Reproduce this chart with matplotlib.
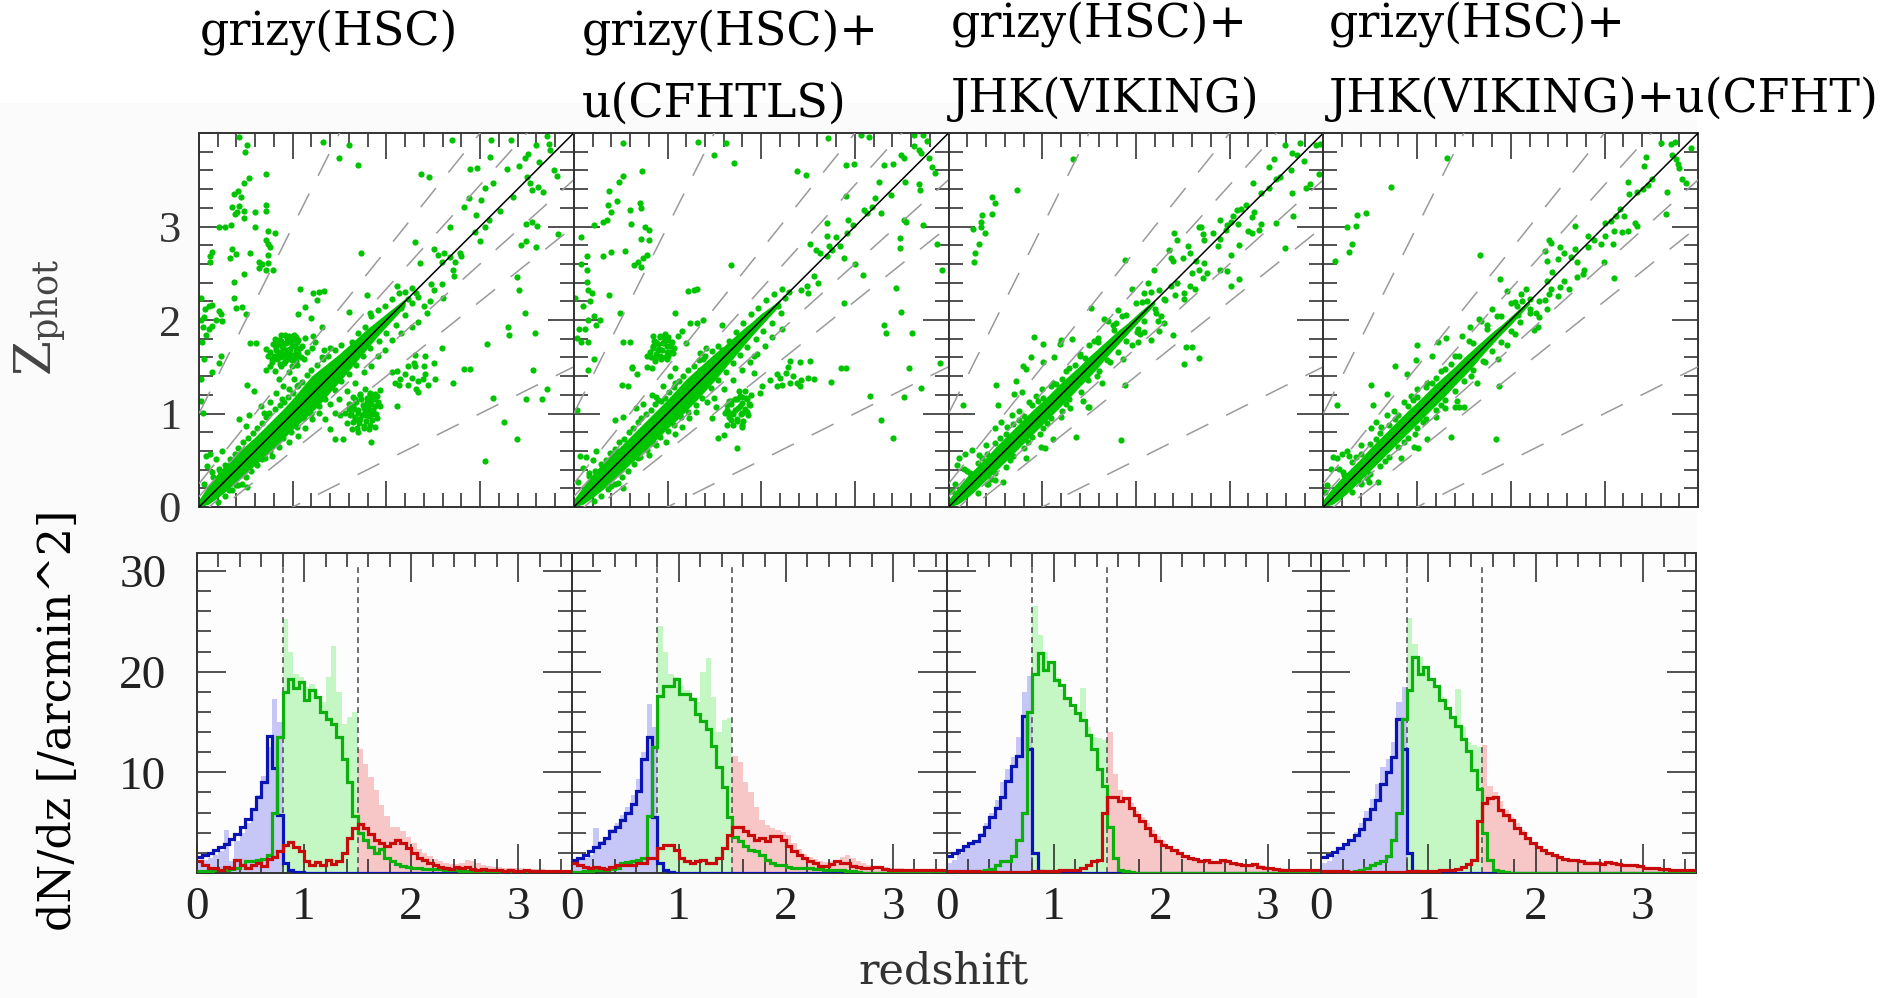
import matplotlib
matplotlib.use('Agg')
import matplotlib.pyplot as plt
import numpy as np
from matplotlib.ticker import MultipleLocator, NullFormatter
from matplotlib.patches import Rectangle

plt.rcParams['font.family'] = ['DejaVu Serif']
plt.rcParams['mathtext.fontset'] = 'dejavuserif'

# ---------------- titles ----------------
title_lines = [['grizy(HSC)'],
               ['grizy(HSC)+', 'u(CFHTLS)'],
               ['grizy(HSC)+', 'JHK(VIKING)'],
               ['grizy(HSC)+', 'JHK(VIKING)+u(CFHT)']]

# ---------------- top row: z_spec vs z_phot ----------------
# outlier lines: (1+zp)/(1+zs) limits
outlier_k = [0.1, 0.2, 0.5]

# dense core along the diagonal (z_spec grid, lower / upper z_phot)
core_z = [0.0, 0.1, 0.2, 0.3, 0.4, 0.5, 0.6, 0.7, 0.8, 0.9, 1.0, 1.1,
          1.2, 1.3, 1.4, 1.5, 1.6, 1.7, 1.8, 1.9, 2.0, 2.1, 2.2]
core_lo_hsc = [0.00, 0.03, 0.10, 0.18, 0.27, 0.36, 0.45, 0.54, 0.63, 0.73, 0.83, 0.92,
               1.01, 1.11, 1.23, 1.34, 1.46, 1.58, 1.70, 1.82, 1.93, 2.04, 2.15]
core_hi_hsc = [0.08, 0.23, 0.36, 0.47, 0.57, 0.66, 0.75, 0.85, 0.95, 1.05, 1.16, 1.28,
               1.40, 1.48, 1.56, 1.64, 1.73, 1.82, 1.91, 1.99, 2.07, 2.15, 2.23]
core_lo_u = [0.00, 0.03, 0.10, 0.18, 0.27, 0.36, 0.46, 0.55, 0.64, 0.74, 0.84, 0.93,
             1.03, 1.13, 1.24, 1.35, 1.47, 1.59, 1.71, 1.83, 1.94, 2.05, 2.16]
core_hi_u = [0.08, 0.22, 0.35, 0.46, 0.56, 0.65, 0.75, 0.85, 0.95, 1.05, 1.15, 1.26,
             1.37, 1.46, 1.55, 1.64, 1.72, 1.81, 1.90, 1.98, 2.07, 2.14, 2.22]
core_lo_vik = [0.00, 0.03, 0.10, 0.19, 0.29, 0.38, 0.48, 0.58, 0.68, 0.78, 0.88, 0.98,
               1.08, 1.18, 1.29, 1.39, 1.50, 1.62, 1.73, 1.84, 1.95, 2.06, 2.17]
core_hi_vik = [0.08, 0.21, 0.33, 0.43, 0.53, 0.64, 0.74, 0.84, 0.94, 1.04, 1.13, 1.23,
               1.33, 1.42, 1.51, 1.61, 1.70, 1.79, 1.88, 1.96, 2.05, 2.14, 2.22]
core_lo_all = [0.00, 0.03, 0.10, 0.19, 0.29, 0.39, 0.49, 0.59, 0.69, 0.79, 0.89, 0.99,
               1.09, 1.19, 1.30, 1.40, 1.51, 1.63, 1.74, 1.85, 1.95, 2.06, 2.17]
core_hi_all = [0.08, 0.21, 0.32, 0.42, 0.52, 0.63, 0.73, 0.83, 0.93, 1.03, 1.12, 1.22,
               1.32, 1.41, 1.50, 1.60, 1.69, 1.78, 1.87, 1.95, 2.04, 2.13, 2.21]

# scattered galaxies (z_spec, z_phot)
pts_hsc = [
    (0.43, 3.96), (0.51, 3.87), (0.49, 3.80), (0.72, 3.56), (0.53, 3.52), (0.48, 3.46), (0.42, 3.38),
    (0.37, 3.35), (0.45, 3.32), (0.35, 3.21), (0.43, 3.22), (0.41, 3.16), (0.48, 3.17), (0.38, 3.13),
    (0.60, 3.16), (0.71, 3.23), (0.72, 3.17), (0.48, 3.09), (0.60, 3.00), (0.34, 3.02), (0.21, 3.00),
    (0.28, 3.00), (0.74, 2.95), (0.81, 2.93), (0.71, 2.86), (0.74, 2.81), (0.14, 2.73), (0.12, 2.68),
    (0.12, 2.62), (0.35, 2.76), (0.39, 2.71), (0.33, 2.66), (0.54, 2.72), (0.74, 2.70), (0.76, 2.78),
    (0.64, 2.62), (0.67, 2.60), (0.74, 2.61), (0.64, 2.56), (0.71, 2.53), (0.79, 2.53), (0.48, 2.49),
    (0.37, 2.41), (0.37, 2.24), (0.39, 2.13), (0.46, 2.14), (0.50, 2.06), (0.02, 2.23), (0.06, 2.12),
    (0.11, 2.15), (0.14, 2.16), (0.21, 2.10), (0.23, 2.06), (0.05, 2.03), (0.02, 2.00), (0.18, 2.00),
    (0.25, 1.99), (0.04, 1.93), (0.11, 1.90), (0.14, 1.94), (0.07, 1.84), (0.03, 1.77), (0.05, 1.58),
    (0.23, 1.61), (0.14, 1.44), (0.21, 1.54), (0.02, 1.37), (0.02, 1.13), (0.04, 1.01), (0.54, 1.75),
    (0.61, 1.75), (1.08, 2.33), (1.22, 2.29), (1.28, 2.30), (1.33, 2.31), (1.26, 2.21), (1.13, 2.14),
    (1.20, 2.02), (1.06, 2.06), (1.31, 1.93), (1.73, 2.72), (0.51, 1.30), (0.59, 1.24), (1.32, 3.90),
    (1.49, 3.73), (1.60, 3.87), (1.70, 3.66), (2.37, 3.56), (2.45, 3.53), (2.70, 3.93), (2.89, 3.62),
    (2.97, 3.63), (3.12, 3.93), (3.11, 3.74), (3.33, 3.93), (3.29, 3.62), (3.42, 3.65), (3.48, 3.73),
    (3.51, 3.78), (3.60, 3.87), (3.63, 3.69), (3.71, 3.97), (3.74, 3.88), (3.75, 3.82), (3.79, 3.60),
    (3.82, 3.54), (3.05, 3.41), (3.14, 3.46), (3.35, 3.32), (3.53, 3.46), (3.62, 3.42), (3.67, 3.37),
    (3.50, 3.53), (3.55, 3.39), (2.88, 3.30), (3.01, 3.28), (2.83, 3.21), (2.96, 3.12), (3.10, 3.07),
    (3.05, 3.00), (3.21, 3.17), (2.68, 3.00), (2.95, 2.94), (3.00, 2.84), (3.49, 3.03), (3.55, 3.05),
    (3.61, 3.01), (3.83, 2.92), (3.44, 2.80), (3.49, 2.85), (3.60, 2.78), (3.39, 2.46), (3.42, 2.32),
    (3.48, 2.07), (3.59, 1.86), (3.30, 1.93), (3.31, 1.84), (3.07, 1.74), (2.30, 2.83), (2.36, 2.61),
    (2.51, 2.76), (2.55, 2.70), (2.62, 2.72), (2.68, 2.67), (2.59, 2.62), (2.73, 2.62), (2.80, 2.68),
    (2.79, 2.72), (2.71, 2.53), (2.72, 2.47), (2.48, 2.39), (2.59, 2.39), (2.51, 2.32), (2.60, 2.23),
    (2.46, 2.20), (2.59, 1.70), (2.31, 1.63), (2.41, 1.61), (2.40, 1.51), (2.30, 1.51), (2.51, 1.54),
    (2.83, 1.48), (2.89, 1.48), (2.71, 1.33), (2.11, 1.45), (2.06, 1.44), (2.15, 1.37), (2.20, 1.42),
    (2.27, 1.38), (2.34, 1.35), (2.39, 1.37), (2.44, 1.31), (2.52, 1.37), (2.13, 1.31), (2.23, 1.31),
    (2.09, 1.33), (2.32, 1.26), (2.34, 1.23), (2.23, 1.51), (2.29, 1.54), (2.41, 1.42), (2.11, 1.08),
    (3.14, 1.17), (3.49, 1.16), (3.66, 1.16), (3.71, 1.26), (3.26, 0.91), (3.39, 0.73), (3.05, 0.49),
    (3.56, 1.47), (1.60, 1.10), (1.65, 1.05), (1.70, 1.01), (1.76, 1.06), (1.79, 1.12), (1.84, 1.15),
    (1.88, 1.21), (1.83, 1.22), (1.77, 1.26), (1.88, 1.08), (1.91, 1.12), (1.72, 0.94), (1.67, 0.94),
    (1.61, 0.98), (1.76, 0.87), (1.81, 0.83), (1.63, 0.83), (1.70, 0.80), (1.84, 0.70), (1.86, 0.99),
    (1.56, 1.01), (1.77, 0.98), (1.83, 1.03), (1.45, 1.01), (1.51, 0.98), (1.40, 0.83), (1.45, 0.73),
    (1.54, 0.73), (1.35, 0.94), (1.32, 1.17), (1.38, 1.28), (0.92, 1.84), (0.96, 1.83), (1.03, 1.82),
    (0.85, 1.79), (0.89, 1.74), (0.94, 1.76), (0.99, 1.72), (1.05, 1.76), (0.82, 1.70), (0.85, 1.65),
    (0.90, 1.61), (0.96, 1.67), (1.01, 1.61), (1.06, 1.65), (0.78, 1.58), (0.74, 1.61), (0.71, 1.69),
    (0.83, 1.58), (0.76, 1.51), (0.87, 1.51), (0.92, 1.56), (0.99, 1.51), (1.13, 1.81), (1.22, 1.83),
    (1.24, 1.76), (1.21, 1.70), (1.12, 1.58), (1.05, 1.52), (0.96, 1.44), (0.85, 1.37), (1.01, 1.37),
    (1.06, 1.31), (0.90, 1.29), (1.33, 1.68), (1.40, 1.70), (1.31, 1.60), (1.83, 2.07), (1.60, 2.09),
    (1.79, 2.27), (2.11, 2.36), (2.27, 2.18), (2.34, 2.25), (2.40, 2.15), (2.43, 2.07),
    (0.07, 0.55), (0.12, 0.57), (0.18, 0.51), (0.25, 0.60), (0.09, 0.44), (0.14, 0.37), (0.21, 0.41),
    (0.05, 0.25), (0.39, 0.23), (0.46, 0.25), (0.51, 0.21), (0.32, 0.18), (0.43, 0.94), (0.50, 0.87),
    (0.53, 0.98), (0.66, 1.08), (0.69, 1.01), (0.76, 1.12), (0.82, 1.22), (0.89, 1.15), (0.96, 1.26),
    (0.67, 0.51), (0.78, 0.55), (0.85, 0.64), (0.96, 0.69), (1.06, 0.76), (1.13, 0.85), (1.21, 0.94),
    (1.28, 1.01), (1.40, 1.10), (1.49, 1.15), (1.58, 1.24), (1.67, 1.33), (1.76, 1.44), (1.84, 1.51),
    (1.91, 1.61), (1.99, 1.68), (2.06, 1.79), (2.16, 1.86), (2.27, 1.93), (2.34, 1.98), (1.56, 1.65),
    (1.63, 1.76), (1.70, 1.86), (1.77, 1.93), (1.84, 2.04), (1.91, 2.11), (1.99, 2.15), (2.06, 2.22),
    (2.13, 2.29), (2.20, 2.30), (2.27, 2.34), (2.32, 2.29), (2.23, 2.22), (2.16, 2.13),
    (0.15, 0.32), (0.22, 0.39), (0.28, 0.45), (0.33, 0.51), (0.38, 0.57), (0.42, 0.63), (0.47, 0.69),
    (0.52, 0.74), (0.58, 0.79), (0.62, 0.85), (0.67, 0.90), (0.71, 0.96), (0.75, 1.01), (0.81, 1.05),
    (0.86, 1.09), (0.91, 1.12), (0.95, 1.18), (1.00, 1.22), (1.05, 1.29), (1.10, 1.34), (1.15, 1.41),
    (1.20, 1.47), (1.26, 1.52), (1.32, 1.58), (1.38, 1.62), (1.45, 1.68), (1.52, 1.73), (0.20, 0.05),
    (0.28, 0.12), (0.35, 0.18), (0.42, 0.24), (0.50, 0.32), (0.56, 0.38), (0.62, 0.45), (0.70, 0.52),
    (0.76, 0.60), (0.83, 0.68), (0.90, 0.74), (0.98, 0.80), (1.05, 0.86), (1.12, 0.95), (1.20, 1.00),
    (1.28, 1.08), (1.35, 1.15), (1.45, 1.25), (1.52, 1.35), (1.60, 1.42), (1.68, 1.52), (1.75, 1.62),
    (1.83, 1.70), (1.92, 1.78), (2.00, 1.86), (2.10, 1.95), (2.20, 2.05), (0.72, 1.46), (0.81, 1.45),
    (1.10, 1.72), (1.15, 1.66), (1.64, 1.18), (1.72, 1.20), (1.58, 0.90), (1.90, 0.95), (1.93, 1.25),
    # upper clump around z_spec ~0.9, z_phot ~1.7
    (0.78, 1.55), (0.80, 1.62), (0.82, 1.68), (0.84, 1.74), (0.86, 1.60), (0.88, 1.66), (0.88, 1.78),
    (0.90, 1.70), (0.92, 1.64), (0.93, 1.75), (0.94, 1.81), (0.95, 1.58), (0.97, 1.69), (0.98, 1.77),
    (1.00, 1.63), (1.00, 1.80), (1.02, 1.72), (1.03, 1.56), (1.04, 1.67), (1.06, 1.79), (1.08, 1.70),
    (1.09, 1.60), (0.81, 1.80), (0.86, 1.53), (0.91, 1.54), (0.96, 1.62), (0.99, 1.57), (0.84, 1.63),
    (0.89, 1.72), (0.94, 1.68), (1.01, 1.84), (0.87, 1.84), (0.79, 1.74), (0.76, 1.66), (1.05, 1.62),
    # lower clump around z_spec ~1.75, z_phot ~1.0
    (1.62, 1.00), (1.64, 1.08), (1.66, 0.96), (1.68, 1.12), (1.70, 1.04), (1.71, 0.90), (1.73, 1.16),
    (1.74, 0.98), (1.75, 1.09), (1.77, 1.02), (1.78, 0.92), (1.79, 1.17), (1.80, 1.07), (1.81, 0.97),
    (1.82, 1.21), (1.84, 1.10), (1.85, 0.93), (1.86, 1.04), (1.87, 1.16), (1.89, 1.00), (1.90, 1.19),
    (1.66, 1.16), (1.69, 0.85), (1.76, 0.84), (1.83, 0.88), (1.72, 1.21), (1.88, 0.86), (1.64, 0.91),
    (1.93, 1.08), (1.60, 1.05),
]

pts_u = [
    (0.52, 3.89), (0.73, 3.59), (0.53, 3.54), (0.48, 3.48), (0.38, 3.38), (0.46, 3.27), (0.37, 3.23),
    (0.60, 3.18), (0.71, 3.25), (0.72, 3.20), (0.40, 3.15), (0.35, 3.07), (0.22, 3.02), (0.31, 3.05),
    (0.61, 3.03), (0.76, 2.99), (0.80, 2.96), (0.72, 2.87), (0.80, 2.86), (0.08, 2.89), (0.40, 2.73),
    (0.31, 2.68), (0.55, 2.74), (0.78, 2.70), (0.74, 2.66), (0.64, 2.59), (0.69, 2.62), (0.72, 2.57),
    (0.14, 2.68), (0.08, 2.60), (0.14, 2.54), (0.14, 2.41), (0.19, 2.29), (0.15, 2.32), (0.01, 2.23),
    (0.10, 2.15), (0.17, 2.20), (0.22, 2.04), (0.15, 2.00), (0.28, 2.00), (0.24, 1.95), (0.06, 1.90),
    (0.12, 1.90), (0.03, 1.81), (0.08, 1.77), (0.15, 1.77), (0.22, 1.58), (0.15, 1.47), (0.03, 1.04),
    (0.38, 2.27), (0.49, 2.07), (0.53, 1.77), (0.60, 1.77), (0.62, 1.50), (0.51, 1.31), (0.58, 1.29),
    (1.22, 2.31), (1.28, 2.32), (1.32, 2.33), (1.08, 2.07), (1.16, 1.88), (1.24, 1.97), (1.31, 1.97),
    (1.38, 2.00), (1.58, 1.95), (1.68, 2.59), (1.50, 3.77), (1.33, 3.90), (1.62, 3.89), (1.71, 3.68),
    (2.38, 3.59), (2.48, 3.55), (2.71, 3.95), (2.91, 3.66), (2.99, 3.67), (3.07, 3.98), (3.15, 3.96),
    (3.63, 3.98), (3.73, 3.98), (3.77, 3.91), (3.49, 3.77), (3.52, 3.73), (3.63, 3.86), (3.68, 3.82),
    (3.71, 3.79), (3.79, 3.73), (3.82, 3.64), (3.86, 3.57), (3.31, 3.66), (3.41, 3.67), (2.90, 3.33),
    (3.21, 3.31), (3.38, 3.34), (3.70, 3.39), (3.68, 3.45), (3.26, 3.48), (3.54, 3.48), (3.10, 3.18),
    (3.13, 3.14), (3.18, 3.21), (3.28, 3.14), (2.70, 3.04), (2.93, 3.07), (2.98, 3.02), (2.80, 2.89),
    (2.84, 2.79), (2.92, 2.93), (2.70, 2.90), (2.72, 2.79), (2.59, 2.75), (2.52, 2.81), (2.63, 2.72),
    (2.70, 2.68), (2.76, 2.75), (2.88, 2.66), (3.00, 2.60), (3.09, 2.48), (2.88, 2.18), (2.56, 2.47),
    (2.61, 2.40), (2.49, 2.36), (2.50, 2.29), (2.42, 2.32), (3.52, 3.07), (3.55, 3.05), (3.73, 3.02),
    (3.48, 2.88), (3.48, 2.77), (3.88, 2.81), (3.93, 2.54), (3.44, 2.34), (3.49, 2.09), (3.31, 1.95),
    (3.33, 1.86), (3.61, 1.86), (3.58, 1.49), (3.71, 1.27), (3.91, 1.54), (3.28, 0.93), (3.41, 0.74),
    (3.16, 1.19), (3.52, 1.18), (2.85, 1.49), (2.91, 1.49), (2.75, 1.34), (2.52, 1.56), (2.41, 1.55),
    (2.17, 1.42), (2.20, 1.38), (2.27, 1.43), (2.34, 1.40), (2.42, 1.36), (2.50, 1.38), (2.56, 1.37),
    (2.31, 1.33), (2.38, 1.33), (2.22, 1.31), (2.17, 1.29), (2.41, 1.29), (2.29, 1.50), (2.31, 1.56),
    (2.09, 1.36), (1.63, 1.09), (1.68, 1.13), (1.74, 1.15), (1.79, 1.18), (1.83, 1.24), (1.85, 1.15),
    (1.88, 1.09), (1.77, 1.08), (1.72, 1.04), (1.67, 1.01), (1.79, 1.01), (1.85, 1.02), (1.61, 1.01),
    (1.68, 0.93), (1.74, 0.92), (1.63, 0.88), (1.79, 0.88), (1.60, 0.77), (1.54, 0.74), (1.74, 0.63),
    (1.99, 1.22), (2.01, 1.29), (1.92, 1.61), (1.92, 1.43), (1.52, 1.07), (1.47, 0.95), (0.92, 1.83),
    (0.97, 1.81), (1.01, 1.79), (0.88, 1.77), (0.95, 1.75), (1.03, 1.72), (0.85, 1.72), (0.90, 1.68),
    (0.99, 1.66), (1.06, 1.65), (0.81, 1.66), (0.92, 1.61), (0.87, 1.58), (0.99, 1.58), (0.78, 1.61),
    (0.83, 1.49), (1.08, 1.49), (0.62, 1.49), (0.67, 1.42), (0.78, 1.50), (1.11, 1.83), (1.20, 1.75),
    (1.35, 1.65), (1.41, 1.70), (1.38, 1.58), (1.03, 1.40), (1.08, 1.33), (0.95, 1.29), (0.88, 1.18),
    (1.35, 1.47), (1.42, 1.43),
    (0.07, 0.55), (0.13, 0.53), (0.20, 0.50), (0.24, 0.60), (0.10, 0.42), (0.16, 0.36), (0.05, 0.27),
    (0.40, 0.22), (0.47, 0.26), (0.52, 0.20), (0.44, 0.93), (0.52, 0.96), (0.66, 1.06), (0.74, 1.10),
    (0.83, 1.20), (0.90, 1.14), (0.68, 0.52), (0.80, 0.56), (0.88, 0.66), (0.98, 0.70), (1.08, 0.78),
    (1.15, 0.86), (1.23, 0.95), (1.30, 1.02), (1.42, 1.12), (1.50, 1.17), (1.60, 1.26), (1.70, 1.36),
    (1.80, 1.46), (1.88, 1.55), (1.96, 1.64), (2.04, 1.72), (2.12, 1.82), (2.22, 1.90), (1.58, 1.68),
    (1.66, 1.78), (1.73, 1.87), (1.81, 1.97), (1.89, 2.06), (1.97, 2.13), (2.05, 2.21), (2.14, 2.28),
    (2.22, 2.33), (2.30, 2.30), (2.25, 2.23), (2.18, 2.15),
    (0.16, 0.33), (0.23, 0.38), (0.29, 0.46), (0.34, 0.50), (0.39, 0.58), (0.44, 0.62), (0.48, 0.70),
    (0.54, 0.73), (0.59, 0.80), (0.63, 0.84), (0.68, 0.91), (0.72, 0.95), (0.77, 1.00), (0.82, 1.04),
    (0.87, 1.10), (0.93, 1.13), (0.97, 1.17), (1.02, 1.23), (1.07, 1.28), (1.12, 1.35), (1.17, 1.40),
    (1.22, 1.46), (1.28, 1.51), (1.34, 1.57), (1.40, 1.61), (1.47, 1.67), (1.54, 1.72), (0.22, 0.06),
    (0.29, 0.12), (0.37, 0.19), (0.44, 0.25), (0.51, 0.32), (0.58, 0.39), (0.64, 0.46), (0.71, 0.53),
    (0.78, 0.61), (0.85, 0.68), (0.92, 0.75), (1.00, 0.81), (1.07, 0.88), (1.14, 0.96), (1.22, 1.02),
    (1.30, 1.09), (1.37, 1.17), (1.46, 1.27), (1.54, 1.36), (1.62, 1.44), (1.70, 1.54), (1.77, 1.63),
    (1.85, 1.71), (1.94, 1.80), (2.02, 1.88), (2.12, 1.97), (2.21, 2.07),
    # upper clump
    (0.82, 1.60), (0.84, 1.70), (0.86, 1.78), (0.88, 1.64), (0.90, 1.74), (0.92, 1.82), (0.94, 1.68),
    (0.96, 1.77), (0.97, 1.60), (0.99, 1.72), (1.01, 1.82), (1.03, 1.66), (1.05, 1.76), (0.87, 1.56),
    (0.93, 1.58), (1.00, 1.62), (0.85, 1.83), (0.91, 1.69), (0.97, 1.85), (1.07, 1.70),
    # lower clump
    (1.64, 1.04), (1.66, 0.96), (1.68, 1.10), (1.70, 1.00), (1.72, 1.15), (1.74, 0.94), (1.75, 1.06),
    (1.77, 1.19), (1.78, 1.00), (1.80, 1.11), (1.81, 0.92), (1.83, 1.05), (1.84, 1.17), (1.86, 0.98),
    (1.87, 1.10), (1.70, 0.88), (1.79, 0.86), (1.89, 1.20), (1.66, 1.13), (1.76, 1.24),
]

pts_vik = [
    (1.33, 3.72), (0.73, 3.39), (0.46, 3.32), (0.50, 3.25), (0.36, 3.12), (0.46, 3.13), (0.35, 3.05),
    (0.26, 2.97), (0.35, 3.00), (0.39, 2.93), (0.32, 2.81), (0.28, 2.72), (0.27, 2.62), (0.15, 1.09),
    (1.88, 2.64), (1.52, 2.13), (0.91, 1.82), (1.01, 1.74), (1.20, 1.79), (1.32, 1.80), (0.88, 1.60),
    (0.79, 1.51), (0.83, 1.48), (1.01, 1.55), (1.12, 1.60), (0.72, 1.35), (0.51, 1.30), (0.70, 1.21),
    (0.78, 1.23), (0.53, 1.09), (1.19, 1.74), (1.81, 2.11), (1.96, 2.33), (1.70, 1.99), (1.79, 1.97),
    (1.59, 1.81), (1.50, 1.73), (1.40, 1.64), (2.13, 2.40), (2.09, 2.29), (2.19, 2.54), (2.16, 2.30),
    (2.37, 2.66), (2.41, 2.93), (2.44, 2.86), (2.35, 2.75), (2.39, 2.63), (2.50, 2.66), (2.55, 2.79),
    (2.58, 2.72), (2.64, 2.63), (2.60, 2.50), (2.67, 2.54), (2.73, 2.61), (2.76, 2.50), (2.71, 2.45),
    (2.58, 2.36), (2.63, 2.33), (2.51, 2.29), (2.42, 2.27), (2.51, 2.22), (2.37, 2.36), (2.44, 2.40),
    (2.30, 2.22), (2.27, 2.04), (2.30, 1.97), (2.23, 1.99), (2.40, 1.84), (2.25, 1.88), (2.16, 1.79),
    (2.09, 1.87), (2.02, 1.90), (2.02, 1.76), (2.53, 1.71), (2.60, 1.71), (2.67, 1.59), (2.51, 1.53),
    (1.88, 1.30), (1.49, 1.07), (1.36, 0.75), (1.84, 0.72), (0.99, 0.64), (1.03, 0.63), (2.69, 3.00),
    (2.71, 2.92), (2.73, 2.86), (2.82, 2.93), (2.90, 2.87), (2.96, 2.96), (2.97, 3.02), (3.01, 3.05),
    (2.90, 3.07), (3.04, 3.11), (3.08, 3.18), (3.12, 3.19), (3.17, 3.23), (3.26, 3.16), (3.24, 3.10),
    (3.09, 3.03), (3.19, 2.95), (3.24, 2.93), (3.31, 2.96), (3.33, 3.03), (3.49, 3.04), (3.59, 2.77),
    (3.10, 2.80), (2.90, 2.53), (2.97, 2.52), (3.01, 2.36), (3.10, 2.44), (2.67, 2.99), (3.01, 2.70),
    (2.87, 2.79), (3.25, 3.46), (3.33, 3.36), (3.42, 3.41), (3.49, 3.51), (3.54, 3.53), (3.67, 3.36),
    (3.81, 3.41), (3.86, 3.45), (3.95, 3.56), (3.65, 3.60), (3.42, 3.64), (3.47, 3.72), (3.59, 3.87),
    (3.66, 3.79), (3.72, 3.76), (3.75, 3.89), (3.79, 3.70), (3.92, 3.87), (3.96, 3.88), (3.68, 3.11),
    (0.11, 0.52), (0.18, 0.57), (0.25, 0.61), (0.32, 0.56), (0.09, 0.45), (0.16, 0.41), (0.23, 0.36),
    (0.32, 0.33), (0.50, 0.29), (0.58, 0.27), (0.42, 0.25), (0.07, 0.25), (0.04, 0.17),
    (0.50, 0.85), (0.56, 0.91), (0.68, 0.98), (0.75, 1.03), (0.86, 1.12), (0.93, 1.19), (1.00, 1.26),
    (1.11, 1.33), (1.40, 1.62), (1.66, 2.01), (0.83, 0.52), (1.11, 0.73), (1.43, 1.13), (1.50, 1.07),
    (1.64, 1.33), (1.86, 1.58), (1.96, 1.73), (2.04, 1.85), (0.62, 0.86), (0.40, 0.66), (0.98, 0.78),
    (1.20, 0.96), (1.30, 1.06), (1.58, 1.40), (1.72, 1.55), (1.25, 1.45), (1.55, 1.78), (1.75, 1.95),
    (1.85, 2.04), (2.00, 2.18), (2.12, 2.20), (2.20, 2.12), (2.25, 2.32),
    (0.20, 0.38), (0.31, 0.47), (0.41, 0.57), (0.49, 0.68), (0.61, 0.78), (0.69, 0.89), (0.81, 0.97),
    (0.89, 1.09), (1.01, 1.17), (1.09, 1.29), (1.21, 1.37), (1.29, 1.49), (1.46, 1.59), (1.59, 1.76),
    (1.76, 1.89), (1.89, 2.05), (2.06, 2.19), (0.31, 0.15), (0.41, 0.25), (0.49, 0.36), (0.61, 0.43),
    (0.69, 0.55), (0.81, 0.63), (0.89, 0.75), (1.01, 0.84), (1.09, 0.95), (1.21, 1.03), (1.29, 1.15),
    (1.41, 1.23), (1.49, 1.36), (1.61, 1.45), (1.69, 1.57), (1.81, 1.66), (1.89, 1.78), (2.01, 1.87),
    (2.09, 1.99), (2.21, 2.07), (2.31, 2.21), (0.36, 0.52), (0.55, 0.74), (0.75, 0.93), (0.95, 1.13),
    (1.15, 1.32), (1.35, 1.52), (0.45, 0.30), (0.65, 0.50), (0.85, 0.70), (1.05, 0.90), (1.25, 1.10),
]

pts_all = [
    (1.32, 3.73), (0.72, 3.42), (0.45, 3.14), (0.36, 3.12), (0.25, 2.99), (0.35, 3.01), (0.31, 2.81),
    (0.27, 2.73), (0.12, 2.63), (0.14, 1.09), (1.67, 2.70), (1.88, 2.44), (1.96, 2.31), (1.80, 2.12),
    (1.68, 1.99), (1.56, 1.92), (1.48, 1.83), (1.31, 1.81), (1.22, 1.76), (1.00, 1.73), (1.16, 1.62),
    (0.99, 1.57), (0.76, 1.51), (0.89, 1.42), (0.68, 1.21), (0.51, 1.30), (0.53, 1.09), (1.36, 0.75),
    (1.84, 0.73), (0.97, 0.64), (1.01, 0.63), (1.87, 1.29), (1.40, 1.07), (1.45, 1.07), (2.08, 2.05),
    (2.07, 2.15), (2.11, 2.28), (2.16, 2.33), (2.21, 2.22), (2.27, 2.08), (2.30, 2.03), (2.29, 1.92),
    (2.25, 1.89), (2.39, 2.12), (2.36, 2.21), (2.41, 2.28), (2.39, 2.42), (2.44, 2.51), (2.39, 2.63),
    (2.37, 2.74), (2.52, 2.78), (2.57, 2.72), (2.50, 2.65), (2.64, 2.67), (2.69, 2.76), (2.71, 2.62),
    (2.78, 2.54), (2.77, 2.49), (2.71, 2.46), (2.57, 2.42), (2.52, 2.35), (2.43, 2.33), (2.62, 2.33),
    (2.50, 2.26), (2.43, 2.82), (2.41, 2.86), (2.68, 3.01), (2.82, 2.90), (2.89, 2.86), (2.96, 2.81),
    (2.99, 2.62), (3.10, 2.45), (3.09, 2.81), (3.00, 2.90), (3.01, 3.04), (3.07, 3.06), (3.12, 3.11),
    (3.17, 3.19), (3.21, 3.11), (3.10, 2.95), (3.19, 2.94), (3.33, 3.04), (3.35, 3.01), (3.25, 2.95),
    (2.82, 2.78), (3.25, 3.48), (3.26, 3.35), (3.35, 3.37), (3.41, 3.40), (3.46, 3.44), (3.51, 3.51),
    (3.67, 3.37), (3.66, 3.13), (3.44, 3.74), (3.42, 3.65), (3.60, 3.89), (3.71, 3.88), (3.75, 3.90),
    (3.72, 3.77), (3.76, 3.72), (3.78, 3.67), (3.80, 3.63), (3.83, 3.51), (3.87, 3.46), (3.92, 3.84),
    (0.10, 0.53), (0.15, 0.52), (0.20, 0.57), (0.25, 0.60), (0.27, 0.55), (0.08, 0.41), (0.17, 0.41),
    (0.22, 0.34), (0.33, 0.35), (0.49, 0.27), (0.58, 0.27), (0.40, 0.25), (0.04, 0.23), (0.02, 0.16),
    (0.51, 0.85), (0.56, 0.91), (0.68, 0.98), (0.75, 1.03), (0.86, 1.12), (0.93, 1.19), (1.00, 1.26),
    (1.11, 1.33), (1.40, 1.62), (1.66, 2.01), (0.83, 0.52), (1.11, 0.73), (1.43, 1.13), (1.50, 1.07),
    (1.64, 1.33), (1.86, 1.58), (1.96, 1.73), (2.04, 1.85), (0.62, 0.86), (0.40, 0.66), (0.98, 0.78),
    (1.20, 0.96), (1.30, 1.06), (1.58, 1.40), (1.72, 1.55), (1.25, 1.45), (1.55, 1.78), (1.75, 1.95),
    (1.85, 2.04), (2.00, 2.18), (2.12, 2.20), (2.20, 2.12),
    (0.21, 0.37), (0.30, 0.48), (0.40, 0.57), (0.50, 0.67), (0.60, 0.79), (0.70, 0.88), (0.80, 0.98),
    (0.90, 1.08), (1.00, 1.18), (1.10, 1.28), (1.20, 1.38), (1.30, 1.48), (1.45, 1.61), (1.60, 1.75),
    (1.75, 1.90), (1.90, 2.04), (2.05, 2.19), (0.30, 0.16), (0.40, 0.26), (0.50, 0.35), (0.60, 0.44),
    (0.70, 0.54), (0.80, 0.64), (0.90, 0.74), (1.00, 0.85), (1.10, 0.94), (1.20, 1.04), (1.30, 1.14),
    (1.40, 1.24), (1.50, 1.35), (1.60, 1.46), (1.70, 1.56), (1.80, 1.67), (1.90, 1.77), (2.00, 1.88),
    (2.10, 1.98), (2.20, 2.08), (2.30, 2.20), (0.35, 0.53), (0.56, 0.73), (0.76, 0.94), (0.96, 1.14),
    (1.16, 1.33), (1.36, 1.53), (0.46, 0.31), (0.66, 0.49), (0.86, 0.69), (1.06, 0.91), (1.26, 1.09),
]

# ---------------- bottom row: dN/dz histograms (bins of 0.05 from 0 to 3.5) ----------------
# filled = selection by photo-z; steps = true redshift of each selection
blue_fill_hsc = [1.2, 1.3, 1.5, 1.8, 2.2, 4.3, 1.2, 3.2, 4.0, 5.0, 6.2, 7.8, 9.6, 12.5, 17.3, 15.0]
green_fill_hsc = [25.2, 22.0, 19.8, 19.5, 18.5, 18.8, 17.5, 17.0, 19.5, 22.6, 18.0, 14.8, 15.5, 16.0]
red_fill_hsc = [12.3, 10.8, 9.5, 8.2, 6.8, 5.7, 4.6, 4.6, 4.2, 3.6, 3.0, 2.4, 2.0, 1.7, 1.4, 1.2,
                1.0, 0.9, 0.9, 1.0, 1.3, 1.2, 1.0, 0.8, 0.7, 0.6, 0.6, 0.5, 0.5, 0.5, 0.5, 0.4,
                0.4, 0.4, 0.4, 0.3, 0.3, 0.3, 0.3, 0.3]
blue_line_hsc = [1.6, 1.8, 2.0, 2.3, 2.6, 2.9, 3.4, 3.9, 4.6, 5.4, 6.4, 7.6, 9.0, 13.6, 10.4, 5.8,
                 1.0, 0.3, 0.1, 0.1]
green_line_hsc = [0.2, 0.2, 0.2, 0.3, 0.3, 0.3, 0.4, 0.5, 0.8, 1.2, 1.2, 1.3, 1.4, 1.8, 6.0, 13.5,
                  18.0, 19.3, 18.4, 19.0, 17.2, 18.2, 17.5, 16.0, 15.3, 14.8, 13.5, 11.3, 9.0, 5.7,
                  4.0, 3.3, 2.6, 2.0, 2.4, 1.5, 1.2, 0.9, 0.7, 0.6, 0.5, 0.5, 0.4, 0.4, 0.4, 0.4,
                  0.3, 0.3, 0.3, 0.2, 0.2, 0.2, 0.1, 0.1]
red_line_hsc = [1.2, 0.8, 0.5, 0.5, 0.3, 0.6, 0.5, 1.3, 0.8, 0.5, 0.8, 1.0, 0.7, 1.4, 1.6, 2.2,
                2.8, 3.1, 2.6, 2.2, 1.2, 0.8, 1.1, 0.8, 1.3, 0.9, 1.2, 2.0, 3.5, 4.5, 4.9, 4.5,
                3.9, 3.3, 3.0, 2.7, 3.0, 3.3, 3.0, 2.5, 2.0, 1.5, 1.3, 1.0, 0.8, 0.6, 0.5, 0.4,
                0.6, 0.5, 0.6, 0.4, 0.3, 0.4, 0.3, 0.3, 0.3, 0.2, 0.3, 0.2, 0.2, 0.3, 0.2, 0.2,
                0.2, 0.2, 0.2, 0.2, 0.2, 0.2]

blue_fill_u = [1.1, 1.3, 1.5, 1.8, 4.5, 3.2, 3.6, 4.4, 5.0, 5.8, 6.6, 7.8, 9.3, 12.0, 16.8, 14.5]
green_fill_u = [24.5, 22.0, 19.8, 19.5, 18.6, 18.2, 17.5, 17.0, 20.0, 21.4, 17.5, 14.0, 15.2, 15.4]
red_fill_u = [11.6, 11.0, 9.0, 8.0, 6.6, 5.3, 4.8, 4.5, 4.3, 4.1, 3.8, 3.0, 2.4, 1.9, 1.6, 1.4,
              1.2, 1.1, 1.2, 1.3, 1.6, 1.8, 1.5, 1.2, 1.0, 0.8, 0.7, 0.6, 0.6, 0.5, 0.5, 0.5,
              0.4, 0.4, 0.4, 0.3, 0.3, 0.3, 0.3, 0.3]
blue_line_u = [1.3, 1.5, 1.8, 2.2, 2.6, 3.0, 3.5, 4.2, 4.6, 5.3, 6.0, 6.9, 8.1, 11.3, 13.5, 5.6,
               1.0, 0.3, 0.1, 0.0]
green_line_u = [0.1, 0.1, 0.2, 0.2, 0.3, 0.3, 0.3, 0.4, 0.5, 1.0, 1.1, 1.2, 1.3, 1.5, 5.7, 12.5,
                17.6, 18.6, 18.6, 19.3, 17.8, 17.8, 17.3, 15.8, 15.1, 14.3, 12.6, 10.5, 8.5, 5.6,
                3.6, 3.2, 2.7, 2.3, 2.2, 1.8, 1.3, 1.0, 0.8, 0.8, 0.6, 0.5, 0.5, 0.5, 0.5, 0.4,
                0.4, 0.3, 0.3, 0.3, 0.3, 0.2, 0.2, 0.1]
red_line_u = [1.0, 0.8, 0.6, 0.5, 0.6, 0.5, 0.4, 0.6, 0.8, 0.8, 0.8, 0.8, 1.0, 1.0, 1.5, 1.5,
              2.5, 2.8, 2.8, 2.3, 1.5, 1.2, 1.0, 1.2, 1.3, 1.0, 1.0, 1.5, 2.5, 3.8, 4.6, 4.6,
              4.2, 3.8, 3.3, 3.5, 3.2, 3.7, 3.7, 3.3, 2.7, 2.2, 1.8, 1.5, 1.2, 1.0, 0.7, 0.7,
              0.9, 1.2, 1.0, 1.0, 0.7, 0.6, 0.5, 0.5, 0.6, 0.6, 0.4, 0.3, 0.3, 0.3, 0.3, 0.3,
              0.3, 0.3, 0.3, 0.3, 0.3, 0.3]

blue_fill_vik = [1.0, 1.3, 2.0, 2.5, 3.0, 3.3, 4.0, 5.0, 6.0, 7.3, 9.0, 10.3, 11.5, 13.5, 18.0, 19.6]
green_fill_vik = [26.5, 23.7, 22.0, 21.0, 19.5, 18.3, 17.2, 16.3, 15.8, 18.4, 14.5, 13.5, 13.4, 13.2]
red_fill_vik = [14.0, 9.8, 8.2, 7.6, 7.0, 6.2, 5.6, 5.0, 4.3, 3.7, 3.2, 2.7, 2.4, 2.1, 1.8, 1.6,
                1.5, 1.4, 1.3, 1.2, 1.2, 1.3, 1.2, 1.1, 1.0, 0.9, 0.9, 0.9, 0.8, 0.7, 0.6, 0.5,
                0.5, 0.4, 0.4, 0.4, 0.3, 0.3, 0.3, 0.3]
blue_line_vik = [1.7, 2.0, 2.3, 2.7, 3.0, 3.2, 3.8, 4.6, 5.6, 6.5, 7.6, 9.1, 10.6, 11.6, 15.6, 12.3,
                 2.0, 0.2, 0.0, 0.0]
green_line_vik = [0.0, 0.0, 0.0, 0.1, 0.1, 0.1, 0.2, 0.3, 0.4, 0.8, 1.2, 1.2, 1.7, 3.3, 6.0, 16.0,
                  19.8, 21.9, 20.2, 21.0, 19.2, 18.7, 17.4, 16.7, 15.9, 15.2, 13.7, 12.3, 10.3, 8.6,
                  4.6, 1.5, 0.3, 0.2, 0.1]
red_line_vik = [0.2, 0.2, 0.2, 0.2, 0.2, 0.2, 0.1, 0.1, 0.1, 0.1, 0.1, 0.1, 0.1, 0.1, 0.1, 0.1,
                0.2, 0.2, 0.2, 0.2, 0.2, 0.3, 0.3, 0.3, 0.3, 0.5, 0.8, 1.2, 1.3, 6.0, 7.6, 7.6,
                7.2, 7.5, 6.5, 5.8, 5.2, 4.5, 3.8, 3.2, 2.8, 2.6, 2.3, 2.0, 1.7, 1.5, 1.4, 1.2,
                1.3, 1.1, 1.1, 1.3, 1.2, 1.0, 0.9, 0.8, 0.8, 0.9, 0.6, 0.5, 0.5, 0.4, 0.3, 0.3,
                0.3, 0.3, 0.3, 0.3, 0.3, 0.3]

blue_fill_all = [1.0, 1.2, 1.8, 2.4, 2.9, 3.4, 4.1, 5.0, 6.2, 7.4, 8.8, 10.5, 11.3, 13.0, 17.0, 18.5]
green_fill_all = [25.3, 22.8, 21.5, 20.5, 19.3, 18.4, 17.5, 16.5, 15.5, 18.3, 14.5, 13.0, 12.7, 12.5]
red_fill_all = [12.7, 8.6, 8.0, 7.2, 6.3, 5.6, 5.0, 4.3, 3.6, 3.1, 2.7, 2.4, 2.1, 1.9, 1.7, 1.5,
                1.4, 1.3, 1.3, 1.2, 1.2, 1.2, 1.1, 1.0, 1.0, 0.9, 0.9, 0.8, 0.7, 0.6, 0.5, 0.5,
                0.4, 0.4, 0.4, 0.3, 0.3, 0.3, 0.3, 0.3]
blue_line_all = [1.6, 1.8, 2.1, 2.5, 2.9, 3.3, 3.8, 4.4, 5.4, 6.4, 7.3, 8.8, 10.0, 11.5, 15.3, 12.3,
                 2.0, 0.2, 0.0, 0.0]
green_line_all = [0.0, 0.0, 0.0, 0.0, 0.1, 0.1, 0.2, 0.3, 0.5, 0.8, 1.0, 1.2, 1.7, 3.3, 6.0, 15.3,
                  18.2, 21.5, 19.8, 20.5, 19.3, 18.6, 17.2, 16.4, 15.5, 14.6, 13.3, 12.1, 10.2, 8.3,
                  4.0, 1.3, 0.3, 0.2, 0.1]
red_line_all = [0.2, 0.2, 0.2, 0.2, 0.2, 0.1, 0.1, 0.1, 0.1, 0.1, 0.1, 0.1, 0.1, 0.1, 0.1, 0.1,
                0.2, 0.2, 0.2, 0.2, 0.2, 0.2, 0.3, 0.3, 0.3, 0.4, 0.6, 0.9, 1.3, 5.2, 7.0, 7.5,
                7.6, 6.3, 5.8, 5.3, 4.5, 4.0, 3.5, 3.0, 2.6, 2.3, 2.0, 1.8, 1.6, 1.4, 1.3, 1.3,
                1.2, 1.0, 1.0, 1.0, 0.9, 1.1, 1.0, 0.9, 0.8, 0.8, 0.8, 0.7, 0.5, 0.5, 0.5, 0.4,
                0.4, 0.3, 0.3, 0.3, 0.3, 0.3]

tomo_edges = [0.8, 1.5]

panels = [
    dict(pts=pts_hsc, lo=core_lo_hsc, hi=core_hi_hsc,
         hist=(blue_fill_hsc, green_fill_hsc, red_fill_hsc, blue_line_hsc, green_line_hsc, red_line_hsc)),
    dict(pts=pts_u, lo=core_lo_u, hi=core_hi_u,
         hist=(blue_fill_u, green_fill_u, red_fill_u, blue_line_u, green_line_u, red_line_u)),
    dict(pts=pts_vik, lo=core_lo_vik, hi=core_hi_vik,
         hist=(blue_fill_vik, green_fill_vik, red_fill_vik, blue_line_vik, green_line_vik, red_line_vik)),
    dict(pts=pts_all, lo=core_lo_all, hi=core_hi_all,
         hist=(blue_fill_all, green_fill_all, red_fill_all, blue_line_all, green_line_all, red_line_all)),
]

edges = np.round(np.arange(0, 3.5001, 0.05), 3)
nbin = len(edges) - 1


def full(vals, start=0):
    out = np.zeros(nbin)
    out[start:start + len(vals)] = vals
    return out


W, H = 1900, 998
fig = plt.figure(figsize=(W / 100, H / 100), dpi=100)
fig.patches.append(Rectangle((0, 0), 1697 / W, 1 - 103 / H, transform=fig.transFigure,
                             facecolor='#fbfbfb', edgecolor='none', zorder=-10))

pw = 374.8
green_pt = '#00c400'

for i, p in enumerate(panels):
    # ---- top panel ----
    ax = fig.add_axes([(199 + i * pw) / W, 1 - 507 / H, pw / W, 374 / H])
    ax.set_facecolor('white')
    ax.fill_between(core_z, p['lo'], p['hi'], color=green_pt, lw=0, zorder=2)
    pts = np.array(p['pts'])
    ax.scatter(pts[:, 0], pts[:, 1], s=20, color=green_pt, linewidths=0, zorder=2)
    zs = np.linspace(0, 4, 200)
    for k in outlier_k:
        ax.plot(zs, zs - k * (1 + zs), color='#9a9a9a', lw=1.1, dashes=(16, 13), zorder=3)
        ax.plot(zs, (zs + k) / (1 - k), color='#9a9a9a', lw=1.1, dashes=(16, 13), zorder=3)
    ax.plot([0, 4], [0, 4], color='black', lw=1.1, zorder=4)
    ax.set_xlim(0, 4)
    ax.set_ylim(0, 4)
    ax.xaxis.set_major_locator(MultipleLocator(1))
    ax.xaxis.set_minor_locator(MultipleLocator(0.2))
    ax.yaxis.set_major_locator(MultipleLocator(1))
    ax.yaxis.set_minor_locator(MultipleLocator(0.2))
    ax.tick_params(which='both', direction='in', top=True, right=True, width=1.1, color='#222')
    ax.tick_params(which='major', length=19)
    ax.tick_params(which='minor', length=10)
    ax.xaxis.set_major_formatter(NullFormatter())
    if i == 0:
        ax.set_yticks([0, 1, 2, 3])
        ax.tick_params(axis='y', labelsize=32, pad=13, labelcolor='#333')
        for t in ax.get_yticklabels():
            t.set_fontfamily('Liberation Serif')
    else:
        ax.yaxis.set_major_formatter(NullFormatter())
    for s in ax.spines.values():
        s.set_linewidth(1.4)
        s.set_color('#333')

    # ---- bottom panel ----
    bx = fig.add_axes([(197 + i * pw) / W, 1 - 873 / H, pw / W, 320 / H])
    bx.set_facecolor('#fdfdfd')
    bf, gf, rf, bl, gl, rl = p['hist']
    bx.stairs(full(bf, 0), edges, fill=True, color='#c6c6f7', lw=0, zorder=1)
    bx.stairs(full(gf, 16), edges, fill=True, color='#c4f7c4', lw=0, zorder=1)
    bx.stairs(full(rf, 30), edges, fill=True, color='#f7c6c6', lw=0, zorder=1)
    for z0 in tomo_edges:
        bx.axvline(z0, ymax=0.965, color='#555555', lw=1.2, dashes=(3.5, 2.5), zorder=2)
    bx.stairs(full(bl), edges, baseline=None, color='#0a14b4', lw=2.3, zorder=3)
    bx.stairs(full(gl), edges, baseline=None, color='#0cb00c', lw=2.3, zorder=3)
    bx.stairs(full(rl), edges, baseline=None, color='#c80a0a', lw=2.3, zorder=3)
    bx.set_xlim(0, 3.5)
    bx.set_ylim(0, 31.8)
    bx.set_xticks([0, 1, 2, 3])
    bx.xaxis.set_minor_locator(MultipleLocator(0.2))
    bx.set_yticks([10, 20, 30])
    bx.yaxis.set_minor_locator(MultipleLocator(2))
    bx.tick_params(which='both', direction='in', top=True, right=True, width=1.1, color='#222')
    bx.tick_params(which='major', length=21)
    bx.tick_params(which='minor', length=10)
    bx.tick_params(axis='x', labelsize=34, pad=10, labelcolor='#222')
    for t in bx.get_xticklabels():
        t.set_fontfamily('Liberation Serif')
    if i == 0:
        bx.tick_params(axis='y', labelsize=34, pad=22, labelcolor='#222')
        for t in bx.get_yticklabels():
            t.set_fontfamily('Liberation Serif')
    else:
        bx.yaxis.set_major_formatter(NullFormatter())
    for s in bx.spines.values():
        s.set_linewidth(1.4)
        s.set_color('#333')

# ---- titles ----
title_x = [200, 582, 951, 1329]
title_base = [[46], [46, 117], [38, 112], [38, 112]]
for lines, x0, ys in zip(title_lines, title_x, title_base):
    for line, y0 in zip(lines, ys):
        fig.text(x0 / W, 1 - y0 / H, line, fontsize=33, ha='left', va='baseline', color='black')

fig.text(40 / W, 1 - 318 / H, r'$\mathrm{Z}_{\mathrm{phot}}$', rotation=90, fontsize=36,
         ha='center', va='center', color='#444')
fig.text(58 / W, 1 - 720 / H, 'dN/dz [/arcmin^2]', rotation=90, fontsize=32,
         ha='center', va='center', color='black')
fig.text(944 / W, 1 - 972 / H, 'redshift', fontsize=31, ha='center', va='center',
         color='#333')

fig.savefig('out.png', dpi=100)
